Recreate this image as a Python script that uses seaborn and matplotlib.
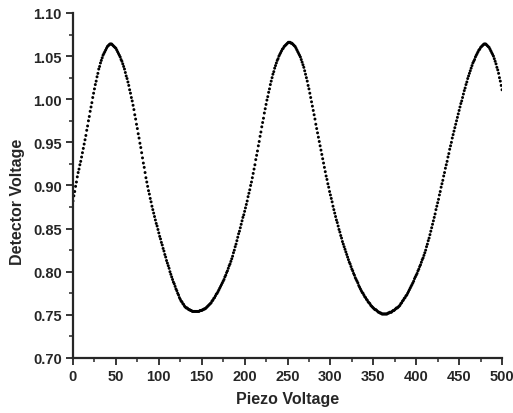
import numpy as np
import pandas as pd
import seaborn as sns
import matplotlib.pyplot as plt
from matplotlib.ticker import MultipleLocator

piezo_voltage = np.arange(0, 501, 1)

detector_voltage = [
    0.882, 0.888, 0.893, 0.899, 0.904, 0.910, 0.915, 0.919, 0.924, 0.928,
    0.933, 0.938, 0.943, 0.948, 0.953, 0.958, 0.964, 0.969, 0.975, 0.980,
    0.986, 0.991, 0.996, 1.002, 1.007, 1.012, 1.017, 1.021, 1.026, 1.030,
    1.035, 1.038, 1.042, 1.045, 1.048, 1.051, 1.053, 1.055, 1.057, 1.059,
    1.061, 1.062, 1.063, 1.064, 1.064, 1.064, 1.063, 1.062, 1.061, 1.060,
    1.059, 1.057, 1.055, 1.053, 1.051, 1.049, 1.046, 1.044, 1.041, 1.038,
    1.035, 1.031, 1.027, 1.024, 1.020, 1.016, 1.011, 1.007, 1.002, 0.998,
    0.993, 0.988, 0.982, 0.977, 0.971, 0.966, 0.960, 0.955, 0.949, 0.944,
    0.938, 0.932, 0.926, 0.921, 0.915, 0.909, 0.904, 0.899, 0.894, 0.890,
    0.885, 0.881, 0.876, 0.872, 0.868, 0.864, 0.860, 0.856, 0.853, 0.849,
    0.845, 0.841, 0.838, 0.834, 0.831, 0.827, 0.824, 0.820, 0.817, 0.813,
    0.810, 0.807, 0.804, 0.800, 0.797, 0.794, 0.791, 0.788, 0.786, 0.783,
    0.780, 0.778, 0.775, 0.773, 0.770, 0.768, 0.766, 0.765, 0.763, 0.762,
    0.760, 0.759, 0.758, 0.758, 0.757, 0.756, 0.756, 0.755, 0.755, 0.754,
    0.754, 0.754, 0.754, 0.754, 0.754, 0.754, 0.754, 0.754, 0.755, 0.755,
    0.755, 0.756, 0.756, 0.757, 0.757, 0.758, 0.759, 0.760, 0.761, 0.762,
    0.763, 0.764, 0.766, 0.767, 0.769, 0.770, 0.772, 0.774, 0.775, 0.777,
    0.779, 0.781, 0.783, 0.785, 0.787, 0.789, 0.791, 0.794, 0.796, 0.799,
    0.801, 0.804, 0.807, 0.809, 0.812, 0.815, 0.818, 0.822, 0.825, 0.829,
    0.832, 0.836, 0.840, 0.844, 0.847, 0.851, 0.855, 0.859, 0.863, 0.866,
    0.870, 0.874, 0.878, 0.882, 0.887, 0.891, 0.895, 0.900, 0.904, 0.909,
    0.914, 0.919, 0.924, 0.930, 0.935, 0.940, 0.946, 0.951, 0.957, 0.962,
    0.968, 0.973, 0.978, 0.984, 0.989, 0.994, 0.999, 1.003, 1.008, 1.012,
    1.017, 1.021, 1.025, 1.029, 1.032, 1.036, 1.039, 1.042, 1.045, 1.047,
    1.050, 1.052, 1.054, 1.056, 1.058, 1.059, 1.061, 1.062, 1.063, 1.064,
    1.065, 1.066, 1.066, 1.066, 1.065, 1.065, 1.064, 1.063, 1.062, 1.061,
    1.059, 1.057, 1.055, 1.053, 1.051, 1.049, 1.046, 1.043, 1.040, 1.037,
    1.033, 1.029, 1.025, 1.021, 1.016, 1.012, 1.007, 1.002, 0.997, 0.992,
    0.987, 0.982, 0.977, 0.971, 0.966, 0.961, 0.956, 0.951, 0.946, 0.941,
    0.936, 0.931, 0.926, 0.921, 0.916, 0.911, 0.907, 0.902, 0.898, 0.893,
    0.889, 0.885, 0.881, 0.876, 0.872, 0.868, 0.864, 0.860, 0.857, 0.853,
    0.849, 0.846, 0.842, 0.839, 0.835, 0.832, 0.829, 0.826, 0.823, 0.820,
    0.817, 0.814, 0.811, 0.809, 0.806, 0.803, 0.801, 0.798, 0.796, 0.793,
    0.791, 0.789, 0.787, 0.784, 0.782, 0.780, 0.778, 0.776, 0.775, 0.773,
    0.771, 0.770, 0.768, 0.767, 0.765, 0.764, 0.763, 0.761, 0.760, 0.759,
    0.758, 0.757, 0.756, 0.756, 0.755, 0.754, 0.753, 0.753, 0.752, 0.752,
    0.751, 0.751, 0.751, 0.751, 0.751, 0.751, 0.751, 0.752, 0.752, 0.753,
    0.753, 0.753, 0.754, 0.755, 0.755, 0.756, 0.757, 0.758, 0.758, 0.759,
    0.760, 0.761, 0.763, 0.764, 0.766, 0.767, 0.769, 0.770, 0.772, 0.773,
    0.775, 0.777, 0.779, 0.781, 0.783, 0.785, 0.787, 0.789, 0.792, 0.794,
    0.796, 0.798, 0.801, 0.803, 0.806, 0.808, 0.811, 0.814, 0.816, 0.819,
    0.822, 0.825, 0.829, 0.832, 0.836, 0.839, 0.843, 0.847, 0.851, 0.855,
    0.859, 0.863, 0.867, 0.872, 0.876, 0.880, 0.884, 0.889, 0.893, 0.898,
    0.902, 0.906, 0.911, 0.915, 0.920, 0.924, 0.928, 0.933, 0.937, 0.942,
    0.946, 0.950, 0.955, 0.959, 0.963, 0.967, 0.971, 0.975, 0.979, 0.983,
    0.987, 0.991, 0.995, 0.998, 1.002, 1.006, 1.010, 1.013, 1.017, 1.020,
    1.024, 1.027, 1.030, 1.033, 1.036, 1.039, 1.042, 1.044, 1.046, 1.049,
    1.051, 1.053, 1.055, 1.057, 1.058, 1.060, 1.061, 1.062, 1.063, 1.064,
    1.064, 1.064, 1.063, 1.062, 1.061, 1.060, 1.058, 1.056, 1.054, 1.052,
    1.050, 1.047, 1.044, 1.041, 1.037, 1.034, 1.030, 1.025, 1.021, 1.016,
    1.011,
]

x_ticks = [0, 50, 100, 150, 200, 250, 300, 350, 400, 450, 500]
y_ticks = [0.70, 0.75, 0.80, 0.85, 0.90, 0.95, 1.00, 1.05, 1.10]

df = pd.DataFrame({"Piezo Voltage": piezo_voltage, "Detector Voltage": detector_voltage})

sns.set_style("ticks")
plt.rcParams["font.family"] = ["Liberation Sans", "DejaVu Sans"]

fig = plt.figure(figsize=(5.13, 4.14), dpi=100)
ax = fig.add_axes([0.1423, 0.1329, 0.8363, 0.8333])

sns.scatterplot(data=df, x="Piezo Voltage", y="Detector Voltage", ax=ax,
                s=4.5, color="black", edgecolor="none", linewidth=0)

ax.set_xlim(0, 500)
ax.set_ylim(0.70, 1.10)
ax.set_xticks(x_ticks)
ax.set_yticks(y_ticks)
ax.set_yticklabels([f"{v:.2f}" for v in y_ticks])
ax.xaxis.set_minor_locator(MultipleLocator(25))
ax.yaxis.set_minor_locator(MultipleLocator(0.025))

ax.tick_params(which="major", direction="out", length=5, width=1.3, labelsize=10.5, pad=3)
ax.tick_params(which="minor", direction="out", length=3, width=1.1)
for lab in ax.get_xticklabels() + ax.get_yticklabels():
    lab.set_fontweight("bold")

ax.set_xlabel("Piezo Voltage", fontsize=11.5, fontweight="bold", labelpad=6)
ax.set_ylabel("Detector Voltage", fontsize=11.5, fontweight="bold", labelpad=4)
ax.yaxis.set_label_coords(-0.112, 0.455)

sns.despine(ax=ax)
for side in ["left", "bottom"]:
    ax.spines[side].set_linewidth(1.6)

fig.savefig("out.png", dpi=100)
